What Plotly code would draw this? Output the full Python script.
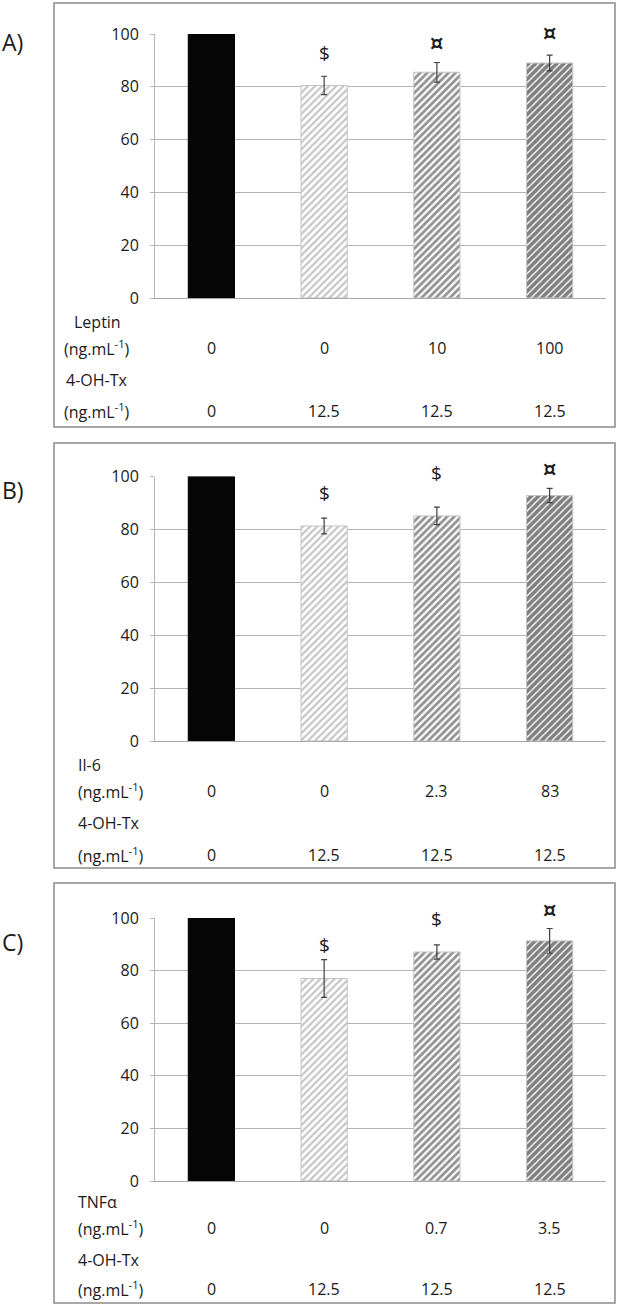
import plotly.graph_objects as go

# ---------------- data ----------------
panel_labels = ["A)", "B)", "C)"]
cytokines = ["Leptin", "Il-6", "TNFα"]
cyto_doses_A = ["0", "0", "10", "100"]
cyto_doses_B = ["0", "0", "2.3", "83"]
cyto_doses_C = ["0", "0", "0.7", "3.5"]
tx_doses = ["0", "12.5", "12.5", "12.5"]

values_A = [100, 80.5, 85.5, 89.0]
err_A = [0, 3.5, 3.7, 3.0]
values_B = [100, 81.3, 85.1, 92.8]
err_B = [0, 3.0, 3.3, 2.7]
values_C = [100, 77.0, 87.1, 91.3]
err_C = [0, 7.2, 2.7, 4.7]

marks_A = ["", "$", "¤", "¤"]
mark_y_A = [None, 92.8, 96.6, 100.4]
marks_B = ["", "$", "$", "¤"]
mark_y_B = [None, 93.7, 101.5, 102.8]
marks_C = ["", "$", "$", "¤"]
mark_y_C = [None, 89.6, 99.7, 103.0]

y_ticks = [0, 20, 40, 60, 80, 100]

# ---------------- layout helpers ----------------
W, H = 620, 1311
FONT = "Open Sans"
TXT = "#1a1a1a"


def py(px):
    return 1 - px / H


def pxx(px):
    return px / W


panels = [
    dict(vals=values_A, err=err_A, marks=marks_A, mark_y=mark_y_A, doses=cyto_doses_A,
         cyto=cytokines[0], label=panel_labels[0], y0=298, y100=34, box=(3, 427),
         rows=(322, 348, 380, 411), lab_x=97, lab_anchor="center", lab_y=42),
    dict(vals=values_B, err=err_B, marks=marks_B, mark_y=mark_y_B, doses=cyto_doses_B,
         cyto=cytokines[1], label=panel_labels[1], y0=741, y100=476.5, box=(443, 868),
         rows=(765, 791, 823, 855), lab_x=76, lab_anchor="left", lab_y=490),
    dict(vals=values_C, err=err_C, marks=marks_C, mark_y=mark_y_C, doses=cyto_doses_C,
         cyto=cytokines[2], label=panel_labels[2], y0=1181, y100=918, box=(883, 1303),
         rows=(1202, 1228, 1260, 1289), lab_x=76, lab_anchor="left", lab_y=942),
]

bar_fills = [
    dict(color="#050505", pattern=None),
    dict(color="white", pattern=dict(shape="/", fgcolor="#8c8c8c", bgcolor="white", size=5, solidity=0.45, fillmode="overlay")),
    dict(color="white", pattern=dict(shape="/", fgcolor="#262626", bgcolor="white", size=5, solidity=0.55, fillmode="overlay")),
    dict(color="white", pattern=dict(shape="/", fgcolor="#000000", bgcolor="white", size=5, solidity=0.72, fillmode="overlay")),
]

fig = go.Figure()
annotations = []
shapes = []
x_pos = [0, 1, 2, 3]

for i, p in enumerate(panels):
    sfx = "" if i == 0 else str(i + 1)
    xa, ya = "x" + sfx, "y" + sfx
    d0, d1 = py(p["y0"]), py(p["y100"])
    for j in range(4):
        bf = bar_fills[j]
        marker = dict(color=bf["color"], line=dict(color="#c4c4c4" if j else "#000", width=1))
        if bf["pattern"]:
            marker["pattern"] = bf["pattern"]
        fig.add_trace(go.Bar(
            x=[x_pos[j]], y=[p["vals"][j]], width=0.41, marker=marker,
            error_y=dict(type="data", array=[p["err"][j]], visible=p["err"][j] > 0,
                         color="#404040", thickness=1.2, width=3),
            xaxis=xa, yaxis=ya, showlegend=False, cliponaxis=False,
        ))
        annotations.append(dict(x=x_pos[j], xref=xa, y=py(p["rows"][1]), yref="paper",
                                text=p["doses"][j], showarrow=False,
                                xanchor="center", yanchor="middle",
                                font=dict(family=FONT, size=16, color=TXT)))
        annotations.append(dict(x=x_pos[j], xref=xa, y=py(p["rows"][3]), yref="paper",
                                text=tx_doses[j], showarrow=False,
                                xanchor="center", yanchor="middle",
                                font=dict(family=FONT, size=16, color=TXT)))
        if p["marks"][j]:
            # position of the mark above the bar, in the axis's value scale
            ym = d0 + (d1 - d0) * p["mark_y"][j] / 100.0
            is_cur = p["marks"][j] == "¤"
            annotations.append(dict(x=x_pos[j], xref=xa, y=ym, yref="paper",
                                    text=("<b>%s</b>" % p["marks"][j]) if is_cur else p["marks"][j],
                                    showarrow=False,
                                    xanchor="center", yanchor="middle",
                                    bgcolor="white" if (i == 1 and j == 2) else "rgba(0,0,0,0)",
                                    borderpad=0,
                                    font=dict(family="DejaVu Sans" if is_cur else FONT,
                                              size=21 if is_cur else 19, color=TXT)))
    row_texts = [p["cyto"], "(ng.mL<sup>-1</sup>)", "4-OH-Tx", "(ng.mL<sup>-1</sup>)"]
    for r, t in zip(p["rows"], row_texts):
        annotations.append(dict(x=pxx(p["lab_x"]), xref="paper", y=py(r), yref="paper",
                                text=t, showarrow=False, xanchor=p["lab_anchor"], yanchor="middle",
                                font=dict(family=FONT, size=16, color=TXT)))
    annotations.append(dict(x=0, xref="paper", y=py(p["lab_y"]), yref="paper",
                            text=p["label"], showarrow=False, xanchor="left", yanchor="middle",
                            font=dict(family=FONT, size=23, color=TXT)))
    shapes.append(dict(type="rect", xref="paper", yref="paper",
                       x0=pxx(54), x1=pxx(615), y0=py(p["box"][1]), y1=py(p["box"][0]),
                       line=dict(color="#8a8a8a", width=1.5)))

    fig.update_layout(**{
        "xaxis" + sfx: dict(domain=[pxx(155), pxx(606)], range=[-0.5, 3.5],
                            showticklabels=False, showgrid=False, zeroline=False,
                            showline=True, linecolor="#a8a8a8", linewidth=1,
                            anchor=ya, fixedrange=True, automargin=False),
        "yaxis" + sfx: dict(domain=[d0, d1], range=[0, 100],
                            tickvals=y_ticks, showgrid=True, gridcolor="#b4b4b4", gridwidth=1,
                            zeroline=False, showline=True, linecolor="#b4b4b4", linewidth=1,
                            ticks="outside", ticklen=4, tickcolor="#b4b4b4",
                            ticklabelstandoff=8,
                            tickfont=dict(family=FONT, size=16, color=TXT),
                            anchor=xa, fixedrange=True, automargin=False),
    })

fig.update_layout(
    template="none",
    width=W, height=H,
    margin=dict(l=0, r=0, t=0, b=0, pad=0),
    paper_bgcolor="white", plot_bgcolor="white",
    barmode="overlay",
    annotations=annotations, shapes=shapes,
)

fig.write_html("out.html",
               config={"displayModeBar": False},
               post_script="document.body.style.margin='0';document.body.style.overflow='hidden';")
